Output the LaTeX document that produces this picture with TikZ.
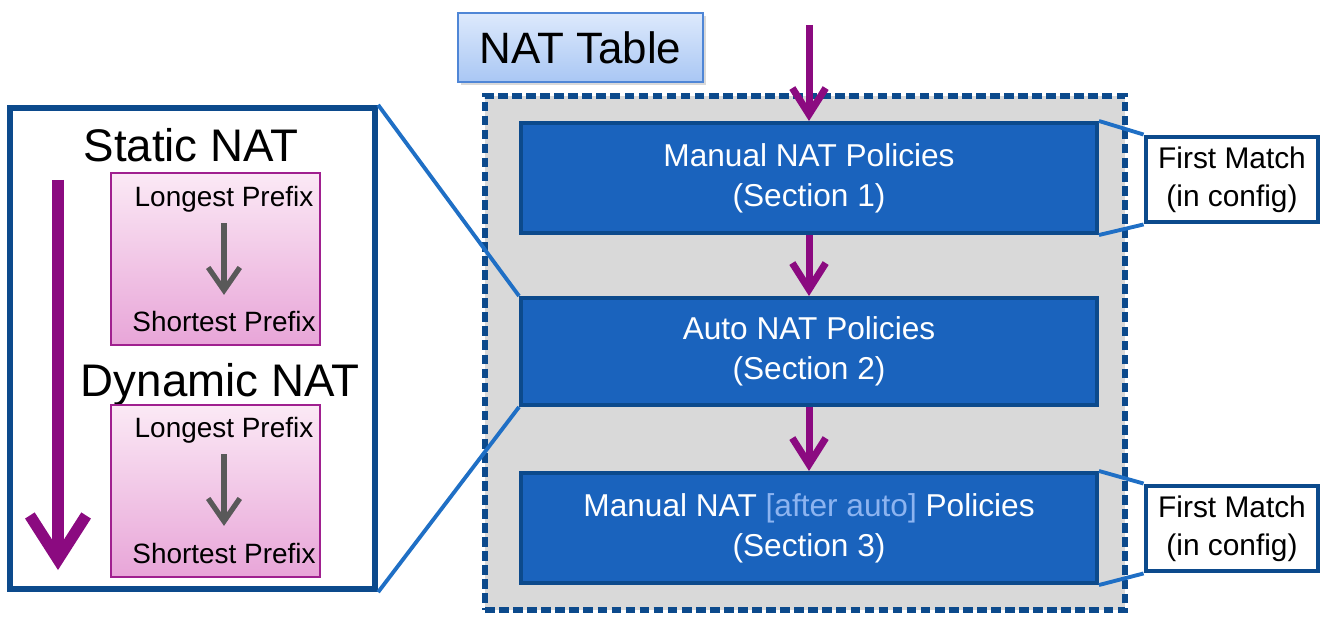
\documentclass[tikz,border=0pt]{standalone}
\usepackage{fontspec}
\setmainfont{Liberation Sans}
\usepackage{tikz}
\usetikzlibrary{arrows.meta,shadows}

\definecolor{SecBlue}{HTML}{1A63BD}
\definecolor{SecEdge}{HTML}{0C4A8C}
\definecolor{LinkBlue}{HTML}{1F6FC5}
\definecolor{Plum}{HTML}{8B0A80}
\definecolor{TableGray}{HTML}{D9D9D9}
\definecolor{PinkTop}{HTML}{FBE9F5}
\definecolor{PinkBot}{HTML}{E8A5D8}
\definecolor{PinkEdge}{HTML}{A0208F}
\definecolor{ArrowGray}{HTML}{595959}
\definecolor{TabTop}{HTML}{DDE9FC}
\definecolor{TabBot}{HTML}{A9C7F4}
\definecolor{TabEdge}{HTML}{4F86D6}
\definecolor{AfterAuto}{HTML}{8DB4F0}

\begin{document}
\begin{tikzpicture}[x=0.02cm, y=-0.02cm]
			\tikzstyle{TableArea}	= [rectangle, draw=SecEdge, fill=TableGray, line width=3.2pt, dash pattern=on 5.5pt off 2.5pt, minimum width=12.8cm, minimum height=10.28cm]
			\tikzstyle{TableTag}	= [rectangle, draw=TabEdge, line width=0.8pt, top color=TabTop, bottom color=TabBot, minimum width=4.9cm, minimum height=1.38cm, font=\fontsize{25}{30}\selectfont, drop shadow={opacity=0.3, shadow xshift=1.5pt, shadow yshift=-1.5pt}]
			\tikzstyle{Section}	= [rectangle, draw=SecEdge, fill=SecBlue, line width=2.3pt, minimum width=11.52cm, minimum height=2.2cm, align=center, text=white, font=\fontsize{18}{22.7}\selectfont]
			\tikzstyle{Match}	= [rectangle, draw=SecEdge, fill=white, line width=2.8pt, minimum width=3.44cm, minimum height=1.7cm, align=center, font=\fontsize{17}{21.5}\selectfont]
			\tikzstyle{ZoomBox}	= [rectangle, draw=SecEdge, fill=white, line width=3.6pt, minimum width=7.3cm, minimum height=9.62cm, drop shadow={opacity=0.25, shadow xshift=1.5pt, shadow yshift=-1.5pt}]
			\tikzstyle{PinkBox}	= [rectangle, draw=PinkEdge, line width=0.8pt, top color=PinkTop, bottom color=PinkBot, minimum width=4.18cm, minimum height=3.44cm]
			\tikzstyle{Heading}	= [inner sep=0pt, anchor=base, font=\fontsize{26}{30}\selectfont]
			\tikzstyle{Prefix}	= [inner sep=0pt, anchor=base, font=\fontsize{15.9}{19}\selectfont]
			\tikzstyle{Link}	= [LinkBlue, line width=2.2pt]
			\tikzstyle{Flow}	= [Plum, line width=4pt, -{Straight Barb[length=15pt, width=19pt]}]
			\tikzstyle{Scan}	= [Plum, line width=6.5pt, -{Straight Barb[length=25pt, width=32pt]}]
			\tikzstyle{PrefixArrow}	= [ArrowGray, line width=3pt, shorten <=0.2cm, shorten >=0.33cm, -{Straight Barb[length=13pt, width=18pt]}]

			\useasboundingbox (0,0) rectangle (1337,617);

			% right part: the NAT table
			\node (natBox) at (805,353) [TableArea] {};
			\node (natTag) at (580.5,47.5) [TableTag] {NAT Table};
			\coordinate (entry) at (809,25);

			\node (sec1) at (809,178) [Section, minimum height=2.2cm] {Manual NAT Policies\\(Section 1)};
			\node (sec2) at (809,351.5) [Section, minimum height=2.14cm] {Auto NAT Policies\\(Section 2)};
			\node (sec3) at (809,528) [Section] {Manual NAT \textcolor{AfterAuto}{[after auto]} Policies\\(Section 3)};

			\node (match1) at (1232,179.5) [Match] {First Match\\(in config)};
			\node (match3) at (1232,528.5) [Match] {First Match\\(in config)};

			% left part: order inside the auto section
			\node (zoomBox) at (192.5,348.5) [ZoomBox] {};
			\node (staticLbl) at (191,162) [Heading] {Static NAT};
			\node (pink1) at (215.5,259) [PinkBox] {};
			\node (long1) at (224,207) [Prefix] {Longest Prefix};
			\node (short1) at (224,332) [Prefix] {Shortest Prefix};
			\node (dynLbl) at (220,397) [Heading] {Dynamic NAT};
			\node (pink2) at (215.5,491) [PinkBox] {};
			\node (long2) at (224,438) [Prefix] {Longest Prefix};
			\node (short2) at (224,563) [Prefix] {Shortest Prefix};
			\coordinate (scanTop) at (58,180);
			\coordinate (scanEnd) at (58,570);

			\draw [Flow] (entry) to (sec1);
			\draw [Flow] (sec1) to (sec2);
			\draw [Flow] (sec2) to (sec3);

			\draw [Link] (sec1.north east) to (match1.north west);
			\draw [Link] (sec1.south east) to (match1.south west);
			\draw [Link] (sec3.north east) to (match3.north west);
			\draw [Link] (sec3.south east) to (match3.south west);
			\draw [Link] (zoomBox.north east) to (sec2.north west);
			\draw [Link] (zoomBox.south east) to (sec2.south west);

			\draw [PrefixArrow] (long1) to (short1);
			\draw [PrefixArrow] (long2) to (short2);
			\draw [Scan] (scanTop) to (scanEnd);
		\end{tikzpicture}
\end{document}
